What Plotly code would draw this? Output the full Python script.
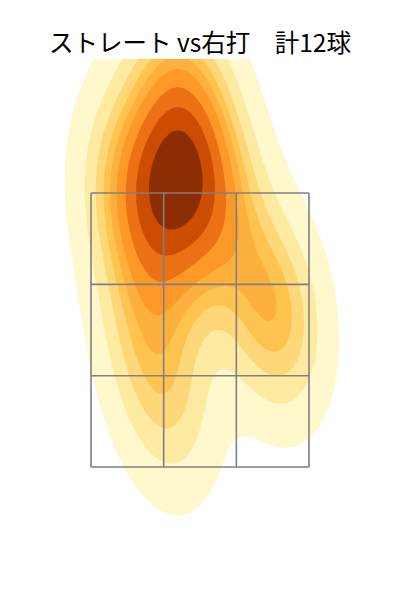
import numpy as np
import plotly.graph_objects as go

# ---- data: pitch locations (cm, catcher's view) ----
pitch_x = [-9.9, -5.0, -1.0, -7.9, -14.9, -3.0, 4.0, 13.5, 15.1, -10.9, -6.3, -3.0]
pitch_y = [101.6, 106.5, 96.7, 90.7, 98.6, 110.5, 101.6, 78.9, 74.4, 73.0, 58.2, 123.3]

# strike zone grid edges (cm)
zone_x = [-21.6, -7.2, 7.2, 21.6]
zone_y = [46.0, 64.0, 82.0, 100.0]

title_text = "ストレート vs右打\u3000計12球"

# density band colours (outermost -> innermost)
band_colors = ["#ffffff", "#fff8cc", "#feeaa0", "#fed778", "#fec44f",
               "#feb03e", "#fe9929", "#ec7014", "#cc4c02", "#8c2d04"]
n_levels = 10
thresh = 0.05
bw_adjust = 1.13

x_range = [-38.05, 38.05]
y_range = [21.37, 126.41]

# ---- gaussian KDE (scott) ----
data = np.vstack([pitch_x, pitch_y]).astype(float)
n = data.shape[1]
factor = n ** (-1.0 / 6.0) * bw_adjust
cov = np.cov(data) * factor ** 2
inv = np.linalg.inv(cov)
norm = 1.0 / (2 * np.pi * np.sqrt(np.linalg.det(cov)))
bw = np.sqrt(np.diag(cov))
gx = np.linspace(min(data[0].min() - 3 * bw[0], x_range[0] - 2), max(data[0].max() + 3 * bw[0], x_range[1] + 2), 260)
gy = np.linspace(min(data[1].min() - 3 * bw[1], y_range[0] - 2), max(data[1].max() + 3 * bw[1], y_range[1] + 2), 360)
XX, YY = np.meshgrid(gx, gy)
dens = np.zeros_like(XX)
for i in range(n):
    dx = XX - data[0, i]
    dy = YY - data[1, i]
    q = inv[0, 0] * dx * dx + 2 * inv[0, 1] * dx * dy + inv[1, 1] * dy * dy
    dens += np.exp(-0.5 * q)
dens *= norm / n

# iso-proportion levels
isoprop = np.linspace(thresh, 1, n_levels)
vals = np.sort(dens.ravel())[::-1]
cum = np.cumsum(vals) / vals.sum()
idx = np.searchsorted(cum, 1 - isoprop)
lev = np.take(vals, idx, mode="clip")
lev = np.sort(lev)
lev[-1] = max(lev[-1], dens.max())
zmap = np.where(dens < lev[0], dens / lev[0] - 1.0,
                np.interp(dens, lev, np.arange(n_levels)))

m = len(band_colors) - 1
colorscale = [[k / m, c] for k, c in enumerate(band_colors)]

fig = go.Figure()
fig.add_trace(go.Contour(
    x=gx, y=gy, z=zmap,
    autocontour=False,
    contours=dict(start=0, end=n_levels - 2, size=1, coloring="fill", showlines=False),
    line=dict(width=0),
    colorscale=colorscale,
    showscale=False,
    hoverinfo="skip",
))

line_style = dict(color="#808080", width=1.6)
for xv in zone_x:
    fig.add_trace(go.Scatter(x=[xv, xv], y=[zone_y[0], zone_y[-1]], mode="lines",
                             line=line_style, showlegend=False, hoverinfo="skip"))
for yv in zone_y:
    fig.add_trace(go.Scatter(x=[zone_x[0], zone_x[-1]], y=[yv, yv], mode="lines",
                             line=line_style, showlegend=False, hoverinfo="skip"))

fig.update_layout(
    width=384, height=584,
    margin=dict(l=0, r=0, t=51, b=0),
    paper_bgcolor="white", plot_bgcolor="white",
    title=dict(text=title_text, x=0.5, xanchor="center", y=1 - 35.5 / 584, yanchor="middle",
               yref="container", font=dict(family="Noto Sans CJK JP", size=24.5, color="black")),
    xaxis=dict(range=x_range, visible=False, fixedrange=True),
    yaxis=dict(range=y_range, visible=False, fixedrange=True),
    showlegend=False,
)
fig.write_html("out.html")
